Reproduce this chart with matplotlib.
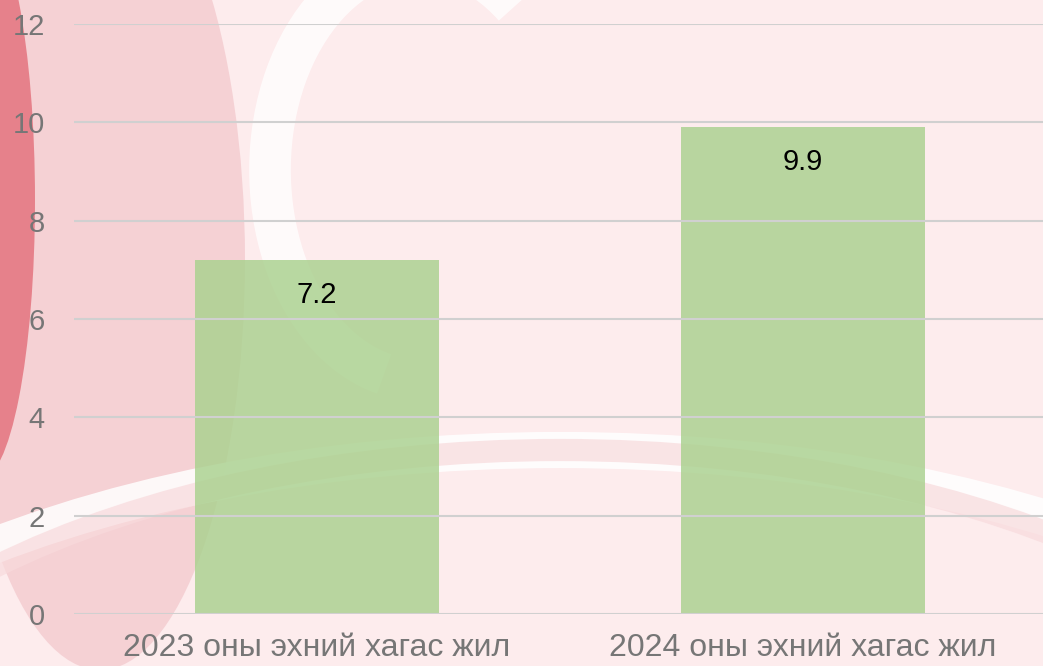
import matplotlib
matplotlib.use("Agg")
import matplotlib.pyplot as plt
from matplotlib.patches import Ellipse, Arc

categories = ["2023 оны эхний хагас жил", "2024 оны эхний хагас жил"]
values = [7.2, 9.9]
yticks = [0, 2, 4, 6, 8, 10, 12]

fig = plt.figure(figsize=(10.43, 6.66), dpi=100)
fig.patch.set_facecolor("#fdeced")

# decorative watermark-like background
bg = fig.add_axes([0, 0, 1, 1], zorder=0)
bg.set_xlim(0, 1043); bg.set_ylim(666, 0); bg.axis("off")
bg.add_patch(Ellipse((100, 260), 290, 820, color="#f1c3c8", alpha=0.65, lw=0))
bg.add_patch(Ellipse((-20, 200), 110, 560, color="#e0606c", alpha=0.7, lw=0))
bg.add_patch(Ellipse((560, 880), 1800, 860, fill=False, ec="white", lw=26, alpha=0.85))
bg.add_patch(Ellipse((560, 850), 1600, 800, fill=False, ec="#f8dadc", lw=16, alpha=0.7))
bg.add_patch(Arc((420, 170), 300, 420, theta1=100, theta2=300, ec="white", lw=30, alpha=0.75))

ax = fig.add_axes([74 / 1043, 52 / 666, 972 / 1043, 590 / 666], zorder=1)
ax.patch.set_alpha(0)
x = range(len(categories))
bars = ax.bar(x, values, width=0.502, color="#a9d18e", alpha=0.82, zorder=1)
ax.set_xlim(-0.5, 1.5)
ax.set_ylim(0, 12)
ax.set_yticks(yticks)
ax.yaxis.grid(True, color="#d0d0d0", lw=1.5, zorder=2)
ax.set_axisbelow(False)
for s in ax.spines.values():
    s.set_visible(False)
ax.tick_params(axis="both", length=0, labelcolor="#767676")
ax.tick_params(axis="y", pad=21, labelsize=21)
ax.tick_params(axis="x", pad=14, labelsize=23)
ax.set_xticks(list(x))
ax.set_xticklabels(categories, family="Liberation Sans")
for lab in ax.get_yticklabels():
    lab.set_family("Liberation Sans")
for b, v in zip(bars, values):
    ax.annotate(f"{v}", (b.get_x() + b.get_width() / 2, v), xytext=(0, -25),
                textcoords="offset points", ha="center", va="center",
                fontsize=21, color="black", family="Liberation Sans", zorder=3)

fig.savefig("out.png", dpi=100, facecolor=fig.get_facecolor())
